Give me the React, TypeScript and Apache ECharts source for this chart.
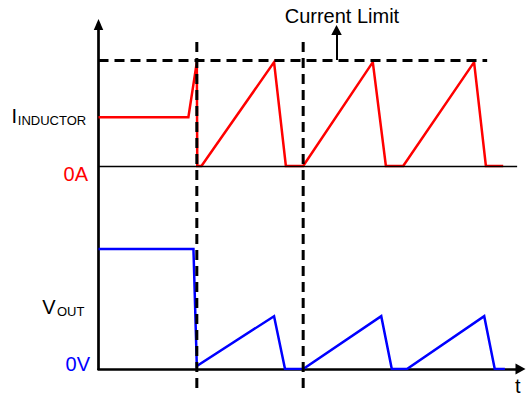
import React, { useEffect, useRef } from "react";
import * as echarts from "echarts";

// ---- Data (time in arbitrary units 0..100, current normalised to the limit, Vout normalised to its initial level)
const inductorTime = [0, 21.3, 23.3, 23.4, 24.4, 41.6, 44.4, 48.5, 65.0, 68.1, 72.2, 89.0, 91.8, 95.9];
const inductorCurrent = [0.46, 0.46, 0.98, 0, 0, 0.98, 0, 0, 0.98, 0, 0, 0.98, 0, 0];
const voutTime = [0, 22.5, 23.3, 41.6, 44.2, 48.5, 67.0, 69.5, 73.1, 91.4, 93.9, 96.3];
const voutValue = [1.0, 1.0, 0.025, 0.44, 0, 0, 0.44, 0, 0, 0.44, 0, 0];
const eventTimes = [23.3, 48.5];
const currentLimit = 1.0;
const currentLimitEnd = 92.1;
const zeroCurrentEnd = 99.2;
const limitArrowTime = 56.4;

// ---- Layout (pixels)
const W = 526;
const H = 398;
const GRID_LEFT = 98.5;
const GRID_TOP = 24.5;
const GRID_RIGHT_X = 520.5;
const GRID_BOTTOM_Y = 369;
const ZERO_A_Y = 166;
const LIMIT_Y = 60;
const VOUT_ONE_Y = 249;
const DASH_TOP_Y = 42;
const DASH_BOTTOM_Y = 390;
const ARROW_CENTER_Y = 30;

const FONT = "'Liberation Sans', Arial, Helvetica, sans-serif";

export default function App() {
  const ref = useRef<HTMLDivElement>(null);

  useEffect(() => {
    if (!ref.current) return;
    const chart = echarts.init(ref.current, null, { renderer: "svg" });

    const aPerPx = currentLimit / (ZERO_A_Y - LIMIT_Y);
    const curMax = (ZERO_A_Y - GRID_TOP) * aPerPx;
    const curMin = -(GRID_BOTTOM_Y - ZERO_A_Y) * aPerPx;
    const vPerPx = 1 / (GRID_BOTTOM_Y - VOUT_ONE_Y);
    const vMax = (GRID_BOTTOM_Y - GRID_TOP) * vPerPx;
    const dashTopV = (GRID_BOTTOM_Y - DASH_TOP_Y) * vPerPx;
    const dashBottomV = (GRID_BOTTOM_Y - DASH_BOTTOM_Y) * vPerPx;
    const arrowEndA = (ZERO_A_Y - ARROW_CENTER_Y) * aPerPx;

    const inductorData = inductorTime.map((t, i) => [t, inductorCurrent[i]]);
    const voutData = voutTime.map((t, i) => [t, voutValue[i]]);

    const bigText = (text: string, x: number, y: number, fill: string, align = "left") => ({
      type: "text",
      silent: true,
      style: { text, x, y, fill, font: `20px ${FONT}`, textAlign: align, textVerticalAlign: "middle" },
    });
    const smallText = (text: string, x: number, y: number) => ({
      type: "text",
      silent: true,
      style: { text, x, y, fill: "#000", font: `13px ${FONT}`, textAlign: "left", textVerticalAlign: "middle" },
    });

    chart.setOption({
      animation: false,
      backgroundColor: "#fff",
      grid: {
        left: GRID_LEFT,
        top: GRID_TOP,
        width: GRID_RIGHT_X - GRID_LEFT,
        height: GRID_BOTTOM_Y - GRID_TOP,
        containLabel: false,
      },
      xAxis: {
        type: "value",
        min: 0,
        max: 100,
        axisLine: {
          show: true,
          onZero: false,
          symbol: ["none", "triangle"],
          symbolSize: [11, 10],
          lineStyle: { color: "#000", width: 2.7 },
        },
        axisTick: { show: false },
        axisLabel: { show: false },
        splitLine: { show: false },
      },
      yAxis: [
        {
          type: "value",
          min: curMin,
          max: curMax,
          position: "left",
          axisLine: {
            show: true,
            onZero: false,
            symbol: ["none", "triangle"],
            symbolSize: [9.5, 11],
            lineStyle: { color: "#000", width: 2.7 },
          },
          axisTick: { show: false },
          axisLabel: { show: false },
          splitLine: { show: false },
        },
        {
          type: "value",
          min: 0,
          max: vMax,
          show: false,
          splitLine: { show: false },
        },
      ],
      series: [
        {
          type: "line",
          name: "Inductor current",
          xAxisIndex: 0,
          yAxisIndex: 0,
          data: inductorData,
          symbol: "none",
          silent: true,
          z: 3,
          lineStyle: { color: "#ff0000", width: 2.5, join: "miter" },
          markLine: {
            silent: true,
            symbol: ["none", "none"],
            label: { show: false },
            emphasis: { disabled: true },
            data: [
              [
                { coord: [0, 0], lineStyle: { color: "#000", width: 1.3, type: "solid" } },
                { coord: [zeroCurrentEnd, 0] },
              ],
              [
                { coord: [0, currentLimit], lineStyle: { color: "#000", width: 3, type: [10, 6] } },
                { coord: [currentLimitEnd, currentLimit] },
              ],
              [
                {
                  coord: [limitArrowTime, currentLimit],
                  symbol: "none",
                  lineStyle: { color: "#000", width: 2, type: "solid" },
                },
                { coord: [limitArrowTime, arrowEndA], symbol: "triangle", symbolSize: [10.5, 10] },
              ],
            ],
          },
        },
        {
          type: "line",
          name: "Vout",
          xAxisIndex: 0,
          yAxisIndex: 1,
          data: voutData,
          symbol: "none",
          silent: true,
          z: 3,
          lineStyle: { color: "#0000ff", width: 2.5, join: "miter" },
        },
        {
          type: "custom",
          name: "Events",
          coordinateSystem: "cartesian2d",
          xAxisIndex: 0,
          yAxisIndex: 1,
          clip: false,
          silent: true,
          z: 4,
          data: eventTimes.map((t) => [t, 0]),
          renderItem: (_params: any, api: any) => {
            const t = api.value(0);
            const p1 = api.coord([t, dashTopV]);
            const p2 = api.coord([t, dashBottomV]);
            return {
              type: "line",
              shape: { x1: p1[0], y1: p1[1], x2: p2[0], y2: p2[1] },
              style: { stroke: "#000", lineWidth: 3, lineDash: [10, 6], fill: null },
            };
          },
        },
      ],
      graphic: [
        bigText("Current Limit", 284.7, 15.7, "#000"),
        bigText("I", 11.5, 116, "#000"),
        smallText("INDUCTOR", 17.8, 120.4),
        bigText("0A", 88, 174, "#ff0000", "right"),
        bigText("V", 42.3, 306.7, "#000"),
        smallText("OUT", 57, 311.8),
        bigText("0V", 90, 364, "#0000ff", "right"),
        bigText("t", 515, 386, "#000"),
      ],
    });

    return () => chart.dispose();
  }, []);

  return <div ref={ref} style={{ position: "absolute", left: 0, top: 0, width: W, height: H }} />;
}
